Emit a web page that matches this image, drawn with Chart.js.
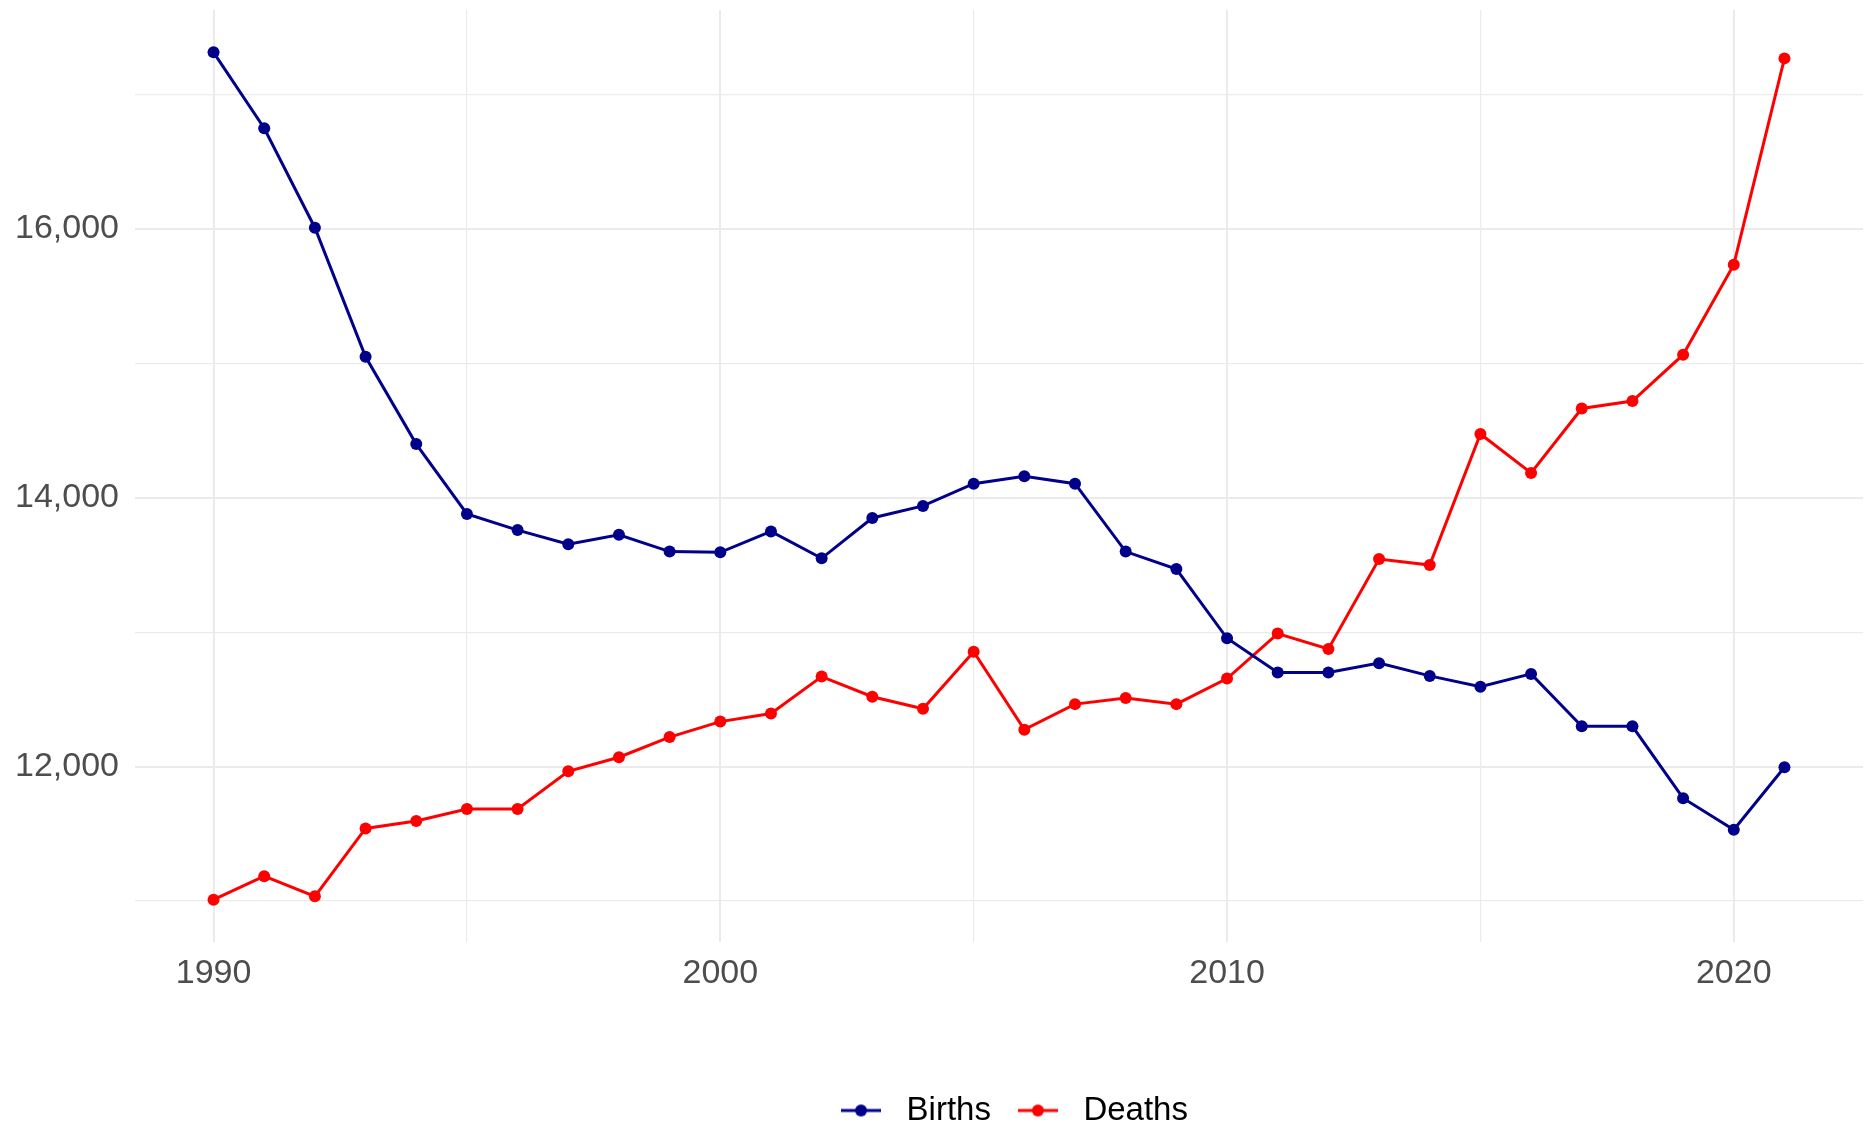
<!DOCTYPE html>
<html>
<head>
<meta charset="utf-8">
<title>Births and deaths</title>
<script src="https://cdn.jsdelivr.net/npm/chart.js@4.4.0/dist/chart.umd.min.js"></script>
<style>
    html, body { margin: 0; padding: 0; background: #fff; }
    #wrap { width: 1869px; height: 1123px; position: relative; }
</style>
</head>
<body>
<div id="wrap"><canvas id="vital-chart" width="1869" height="1123"></canvas></div>
<script>
/* Births vs deaths per year, 1990-2021 */

const years = [1990, 1991, 1992, 1993, 1994, 1995, 1996, 1997, 1998, 1999,
    2000, 2001, 2002, 2003, 2004, 2005, 2006, 2007, 2008, 2009,
    2010, 2011, 2012, 2013, 2014, 2015, 2016, 2017, 2018, 2019,
    2020, 2021];

const births = [17315, 16750, 16010, 15050, 14400, 13880, 13760, 13655, 13725, 13600,
    13595, 13750, 13550, 13850, 13940, 14105, 14160, 14105, 13600, 13470,
    12955, 12700, 12700, 12770, 12675, 12595, 12690, 12300, 12300, 11765,
    11530, 11995];

const deaths = [11010, 11185, 11035, 11540, 11595, 11685, 11685, 11965, 12070, 12220,
    12335, 12395, 12670, 12520, 12430, 12855, 12275, 12465, 12510, 12465,
    12655, 12990, 12875, 13545, 13500, 14475, 14185, 14665, 14720, 15065,
    15735, 17270];

const xTicks = [1990, 1995, 2000, 2005, 2010, 2015, 2020];
const xLabels = [1990, 2000, 2010, 2020];
const yTicks = [11000, 12000, 13000, 14000, 15000, 16000, 17000];
const yLabels = [12000, 14000, 16000];

const BIRTH_COLOR = '#00008B';
const DEATH_COLOR = '#FF0000';
const GRID_COLOR = '#EBEBEB';
const AXIS_TEXT = '#4D4D4D';
const FONT = '"Liberation Sans", Arial, sans-serif';

// ── Helpers ──────────────────────────────────────────────────────────────

function toPoints(values) {
    return years.map((yr, i) => ({ x: yr, y: values[i] }));
}

// ggplot-style key: short line with a dot in the middle
function legendKey(color) {
    const c = document.createElement('canvas');
    c.width = 40;
    c.height = 14;
    const ctx = c.getContext('2d');
    ctx.strokeStyle = color;
    ctx.lineWidth = 3;
    ctx.beginPath();
    ctx.moveTo(0, 7);
    ctx.lineTo(40, 7);
    ctx.stroke();
    ctx.fillStyle = color;
    ctx.beginPath();
    ctx.arc(20, 7, 6, 0, Math.PI * 2);
    ctx.fill();
    return c;
}

function gridWidth(ctx, majors) {
    const v = ctx.tick ? ctx.tick.value : null;
    return majors.includes(v) ? 2 : 1.2;
}

// drop the label overflow padding chart.js reserves around axes
function noScalePadding(scale) {
    scale.paddingTop = 0;
    scale.paddingBottom = 0;
    scale.paddingLeft = 0;
    scale.paddingRight = 0;
}

// nudge the legend to sit where ggplot puts it
const legendShift = {
    id: 'legendShift',
    afterLayout(chart) {
        if (chart.legend) {
            chart.legend.left += 11;
            chart.legend.right += 11;
        }
    },
};

// ── Chart ────────────────────────────────────────────────────────────────

const keys = [legendKey(BIRTH_COLOR), legendKey(DEATH_COLOR)];

const datasets = [
    {
        label: 'Births',
        data: toPoints(births),
        borderColor: BIRTH_COLOR,
        backgroundColor: BIRTH_COLOR,
        borderWidth: 3,
        pointRadius: 6,
        pointBorderWidth: 0,
        pointBackgroundColor: BIRTH_COLOR,
        tension: 0,
    },
    {
        label: 'Deaths',
        data: toPoints(deaths),
        borderColor: DEATH_COLOR,
        backgroundColor: DEATH_COLOR,
        borderWidth: 3,
        pointRadius: 6,
        pointBorderWidth: 0,
        pointBackgroundColor: DEATH_COLOR,
        tension: 0,
    },
];

const canvas = document.getElementById('vital-chart');

new Chart(canvas, {
    type: 'line',
    data: { datasets },
    plugins: [legendShift],
    options: {
        responsive: false,
        animation: false,
        layout: { padding: { top: 10, right: 4, left: 0, bottom: -14 } },
        plugins: {
            tooltip: { enabled: false },
            legend: {
                position: 'bottom',
                align: 'center',
                fullSize: false,
                labels: {
                    usePointStyle: true,
                    pointStyleWidth: 58,
                    padding: 18,
                    color: '#000',
                    font: { family: FONT, size: 33 },
                    generateLabels: chart => chart.data.datasets.map((ds, i) => ({
                        text: ds.label,
                        fillStyle: ds.borderColor,
                        strokeStyle: ds.borderColor,
                        fontColor: '#000',
                        lineWidth: 0,
                        pointStyle: keys[i],
                        hidden: false,
                        datasetIndex: i,
                    })),
                },
            },
        },
        scales: {
            x: {
                type: 'linear',
                min: 1988.45,
                max: 2022.55,
                afterBuildTicks: scale => { scale.ticks = xTicks.map(v => ({ value: v })); },
                afterFit: scale => { scale.height = 134; noScalePadding(scale); },
                border: { display: false },
                grid: {
                    color: GRID_COLOR,
                    lineWidth: ctx => gridWidth(ctx, xLabels),
                    drawTicks: false,
                },
                ticks: {
                    autoSkip: false,
                    maxRotation: 0,
                    padding: 11,
                    color: AXIS_TEXT,
                    font: { family: FONT, size: 34 },
                    callback: v => (xLabels.includes(v) ? String(v) : ''),
                },
            },
            y: {
                type: 'linear',
                min: 10695,
                max: 17630,
                afterBuildTicks: scale => { scale.ticks = yTicks.map(v => ({ value: v })); },
                afterFit: scale => { scale.width = 135; noScalePadding(scale); },
                border: { display: false },
                grid: {
                    color: GRID_COLOR,
                    lineWidth: ctx => gridWidth(ctx, yLabels),
                    drawTicks: false,
                },
                ticks: {
                    autoSkip: false,
                    padding: 16,
                    color: AXIS_TEXT,
                    font: { family: FONT, size: 34 },
                    callback: v => (yLabels.includes(v) ? v.toLocaleString('en-US') : ''),
                },
            },
        },
    },
});
</script>
</body>
</html>
